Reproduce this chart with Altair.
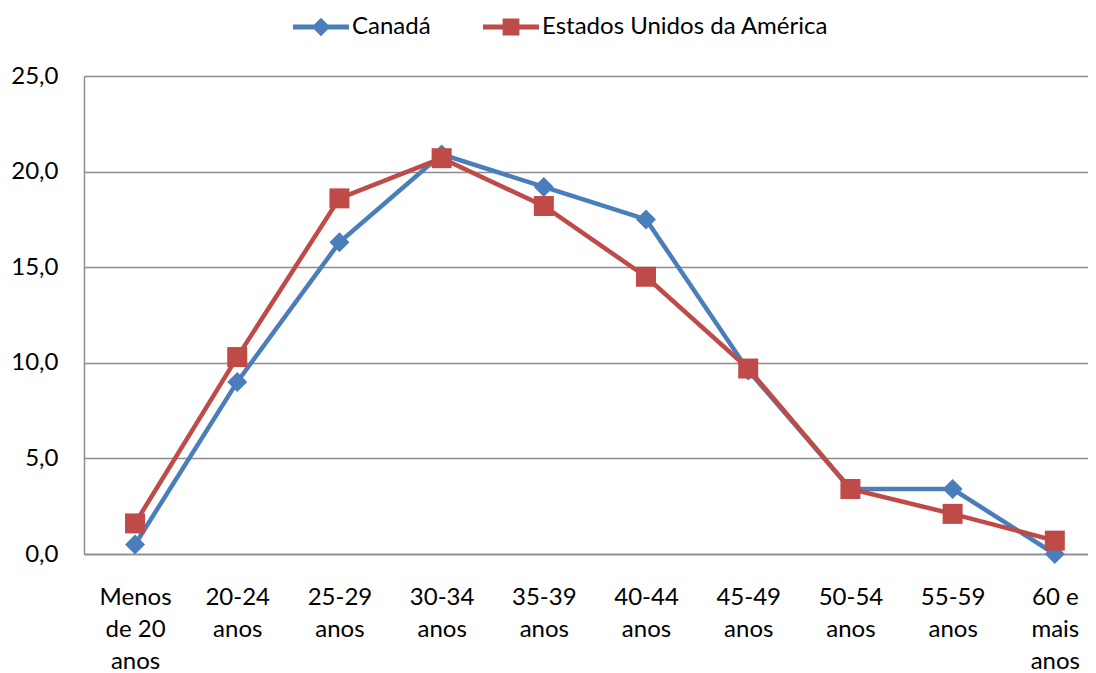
import altair as alt
import pandas as pd

categories = ["Menos|de 20|anos", "20-24|anos", "25-29|anos", "30-34|anos", "35-39|anos",
              "40-44|anos", "45-49|anos", "50-54|anos", "55-59|anos", "60 e|mais|anos"]
canada = [0.5, 9.0, 16.3, 20.9, 19.2, 17.5, 9.6, 3.4, 3.4, 0.0]
eua = [1.6, 10.3, 18.6, 20.7, 18.2, 14.5, 9.7, 3.4, 2.1, 0.7]
series = ["Canadá", "Estados Unidos da América"]
colors = ["#4A7EBB", "#BE4B48"]
shapes = ["diamond", "square"]

rows = []
for c, v in zip(categories, canada):
    rows.append({"cat": c, "value": v, "serie": series[0]})
for c, v in zip(categories, eua):
    rows.append({"cat": c, "value": v, "serie": series[1]})
df = pd.DataFrame(rows)

FONT = "Lato"

x = alt.X("cat:N", sort=categories, title=None,
          scale=alt.Scale(type="point", padding=0.412, align=0.606),
          axis=alt.Axis(labelAngle=0, labelExpr="split(datum.label, '|')",
                        labelLineHeight=32, labelFontSize=24, labelFont=FONT,
                        labelColor="black", labelPadding=31, ticks=False,
                        domainColor="#8c8c8c", domainWidth=1.5, grid=False,
                        labelBaseline="top"))
y = alt.Y("value:Q", title=None,
          scale=alt.Scale(domain=[0, 25], nice=False),
          axis=alt.Axis(values=[0, 5, 10, 15, 20, 25],
                        labelExpr="replace(format(datum.value, '.1f'), '.', ',')",
                        labelFontSize=24, labelFont=FONT, labelColor="black",
                        labelPadding=26, ticks=False, domainColor="#8c8c8c",
                        domainWidth=1.5, gridColor="#8c8c8c", gridWidth=1.5))

line_path = "M-1,-0.085L1,-0.085L1,0.085L-1,0.085Z"
diamond_sym = line_path + "M0,-0.33L0.33,0L0,0.33L-0.33,0Z"
square_sym = line_path + "M-0.3,-0.3L0.3,-0.3L0.3,0.3L-0.3,0.3Z"

def make_legend():
    return alt.Legend(
        title=None, orient="none", direction="horizontal", legendX=209, legendY=-77,
        padding=0, labelFontSize=24, labelFont=FONT, labelColor="black",
        labelLimit=600, symbolSize=3136, symbolStrokeWidth=0, labelOffset=3,
        columnPadding=52, symbolOpacity=1)

layers = []
for s, col, shp in zip(series, colors, shapes):
    base = alt.Chart(df).transform_filter(alt.datum.serie == s)
    ln = base.mark_line(strokeWidth=4.5, color=col).encode(x=x, y=y)
    pt = base.mark_point(filled=True, opacity=1, size=400, shape=shp, color=col).encode(x=x, y=y)
    layers += [ln, pt]

legend_layer = alt.Chart(df).mark_point(filled=True, opacity=1, size=0).encode(
    x=x, y=y,
    color=alt.Color("serie:N", scale=alt.Scale(domain=series, range=colors),
                    legend=make_legend()),
    shape=alt.Shape("serie:N", scale=alt.Scale(domain=series, range=[diamond_sym, square_sym]),
                    legend=make_legend()))
layers.append(legend_layer)

chart = alt.layer(*layers).properties(
    width=1004, height=478,
    autosize=alt.AutoSizeParams(type="none"),
    padding={"left": 76, "top": 68, "right": 0, "bottom": 117},
).configure_view(stroke=None).configure(background="white")

chart.save("out.html", embed_options={"renderer": "svg", "actions": False})
